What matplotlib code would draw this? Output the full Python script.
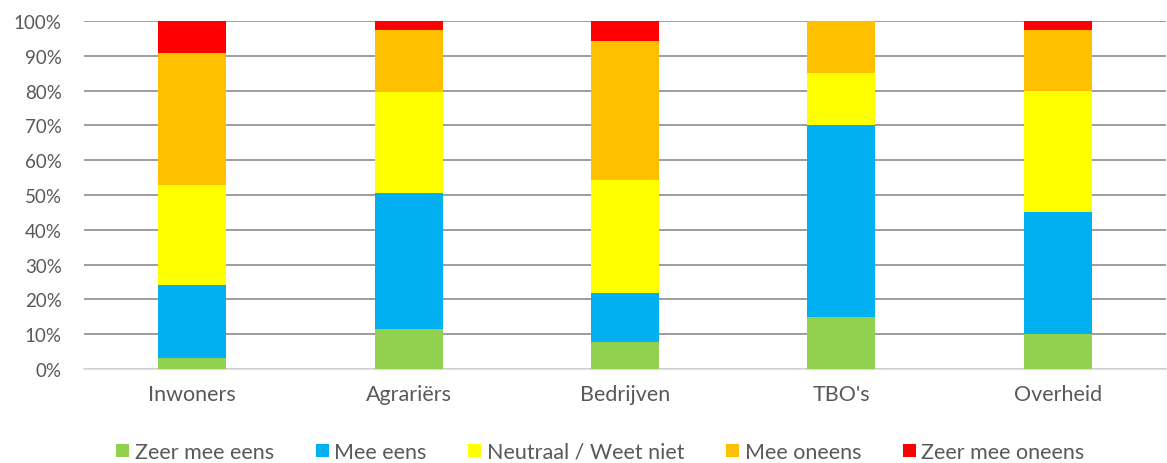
import matplotlib
matplotlib.use("Agg")
import matplotlib.pyplot as plt
import numpy as np

categories = ["Inwoners", "Agrariërs", "Bedrijven", "TBO's", "Overheid"]
series_names = ["Zeer mee eens", "Mee eens", "Neutraal / Weet niet", "Mee oneens", "Zeer mee oneens"]
zeer_mee_eens = [3.3, 11.6, 7.9, 15.0, 10.0]
mee_eens = [20.7, 39.1, 13.9, 55.0, 35.0]
neutraal = [28.8, 28.8, 32.6, 15.0, 35.0]
mee_oneens = [38.0, 17.9, 39.9, 15.0, 17.5]
zeer_mee_oneens = [9.2, 2.6, 5.7, 0.0, 2.5]
colors = ["#92D050", "#00B0F0", "#FFFF00", "#FFC000", "#FF0000"]
yticks = [0, 10, 20, 30, 40, 50, 60, 70, 80, 90, 100]

plt.rcParams['font.family'] = ['Lato', 'DejaVu Sans']

fig = plt.figure(figsize=(11.67, 4.64), dpi=100)
ax = fig.add_axes([84/1167, 94/464, (1166-84)/1167, (370-22)/464])

x = np.arange(len(categories))
bottom = np.zeros(len(categories))
handles = []
for name, vals, c in zip(series_names,
                         [zeer_mee_eens, mee_eens, neutraal, mee_oneens, zeer_mee_oneens],
                         colors):
    b = ax.bar(x, vals, width=0.315, bottom=bottom, color=c, label=name, zorder=3)
    bottom += np.array(vals)
    handles.append(b)

ax.set_xlim(-0.5, len(categories) - 0.5)
ax.set_ylim(0, 100)
ax.set_yticks(yticks)
ax.set_yticklabels([f"{v}%" for v in yticks])
ax.set_xticks(x)
ax.set_xticklabels(categories)
ax.yaxis.grid(True, color="#8c8c8c", linewidth=1.2, zorder=0)
ax.set_axisbelow(True)
for s in ["top", "right", "left"]:
    ax.spines[s].set_visible(False)
ax.spines["bottom"].set_color("#d9d9d9")
ax.spines["bottom"].set_linewidth(1.2)
ax.tick_params(axis="both", length=0, colors="#595959")
ax.tick_params(axis="y", pad=16, labelsize=13.5)
ax.tick_params(axis="x", pad=11, labelsize=15.5)

leg = fig.legend(handles, series_names, loc="center",
                 ncol=5, frameon=False, fontsize=15.5, handlelength=0.6, handleheight=0.6,
                 handletextpad=0.25, columnspacing=1.95, labelcolor="#595959")
leg.set_bbox_to_anchor((0.5 + 17/1167, 1 - 453/464), transform=fig.transFigure)

fig.savefig("out.png", dpi=100)
